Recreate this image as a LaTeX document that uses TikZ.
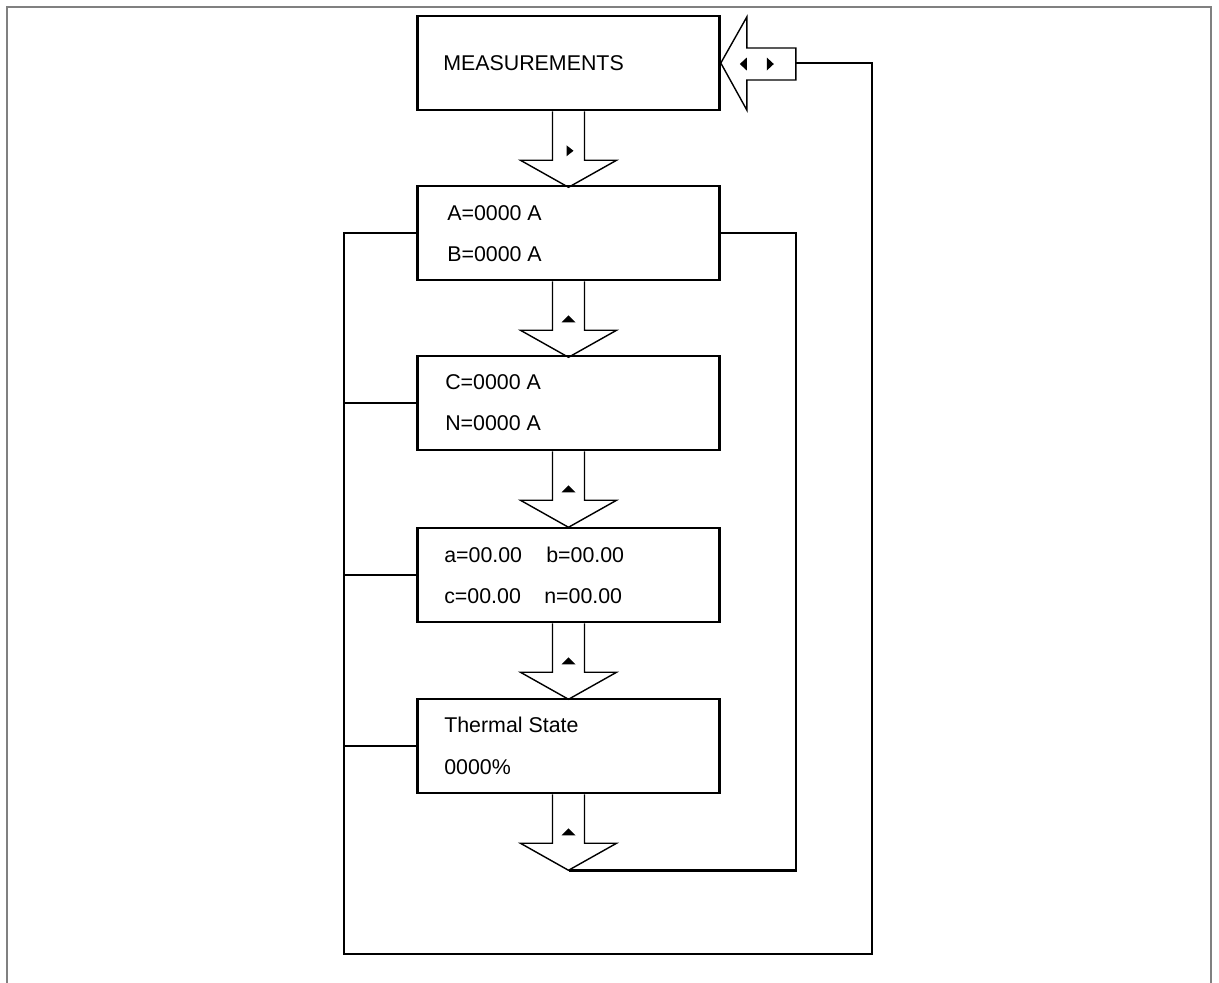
\documentclass[tikz,border=0pt]{standalone}
\usepackage{fontspec}
\setmainfont{Liberation Sans}
\usetikzlibrary{positioning}

\tikzset{
  menubox/.style={draw, line width=1.8pt, minimum width=7.55cm, minimum height=2.35cm, inner sep=0pt},
  lbl/.style={anchor=base west, inner sep=0pt, font=\fontsize{15.2}{18}\selectfont},
  link/.style={line width=1.8pt},
  arrowline/.style={line width=1pt},
  pics/blockdown/.style={code={
    \draw[arrowline] (-16,0) -- (-16,49) -- (-48,49) -- (0,76) -- (48,49) -- (16,49) -- (16,0);
    \coordinate (-tip) at (0,76);
    \fill #1;
  }},
  pics/blockleft/.style={code={
    \draw[arrowline] (0,0) -- (26,-46) -- (26,-15) -- (75,-15) -- (75,17) -- (26,17) -- (26,47) -- cycle;
    \coordinate (-tail) at (75,0);
    \fill (19,1) -- (26,-5.5) -- (26,7.5) -- cycle;
    \fill (53,1) -- (46,-5.5) -- (46,7.5) -- cycle;
  }},
}

\begin{document}
\begin{tikzpicture}[x=0.025cm, y=-0.025cm]
	\useasboundingbox (0,0) rectangle (1219,982);
	\draw[gray, line width=1.4pt] (7,1000) -- (7,7) -- (1211,7) -- (1211,1000);

	% menu screens
	\node[menubox] (meas) at (568.5,63) {};
	\node[menubox] (boxAB) at (568.5,233) {};
	\node[menubox] (boxCN) at (568.5,403) {};
	\node[menubox] (boxPh) at (568.5,575) {};
	\node[menubox] (thermal) at (568.5,746) {};

	\node[lbl] (measlbl) at (443,70) {MEASUREMENTS};
	\node[lbl] (albl) at (447,220) {A=0000 A};
	\node[lbl] (blbl) at (447,261) {B=0000 A};
	\node[lbl] (clbl) at (445,389) {C=0000 A};
	\node[lbl] (nlbl) at (445,430) {N=0000 A};
	\node[lbl] (pha) at (444,562) {a=00.00};
	\node[lbl] (phb) at (546,562) {b=00.00};
	\node[lbl] (phc) at (444,603) {c=00.00};
	\node[lbl] (phn) at (544,603) {n=00.00};
	\node[lbl] (thlbl) at (444,732) {Thermal State};
	\node[lbl] (thval) at (444,774) {0000\%};

	% key arrows
	\pic (dn1) at (meas.south) {blockdown={(-2,34) -- (5,39.5) -- (-2,45) -- cycle}};
	\pic (dn2) at (boxAB.south) {blockdown={(-7,41) -- (7,41) -- (0,34) -- cycle}};
	\pic (dn3) at (boxCN.south) {blockdown={(-7,41) -- (7,41) -- (0,34) -- cycle}};
	\pic (dn4) at (boxPh.south) {blockdown={(-7,41) -- (7,41) -- (0,34) -- cycle}};
	\pic (dn5) at (thermal.south) {blockdown={(-7,41) -- (7,41) -- (0,34) -- cycle}};
	\pic (esc) at (meas.east) {blockleft};

	% loops
	\coordinate (lbus) at (344,233);
	\coordinate (rbus) at (796,233);
	\coordinate (outer) at (872,954);
	\draw[link] (esc-tail) -| (outer) -| (lbus) -- (boxAB.west);
	\draw[link] (boxAB.east) -- (rbus) |- (dn5-tip);
	\foreach \b in {boxCN,boxPh,thermal}
		\draw[link] (\b.west) -- (\b.west -| lbus);
\end{tikzpicture}
\end{document}
